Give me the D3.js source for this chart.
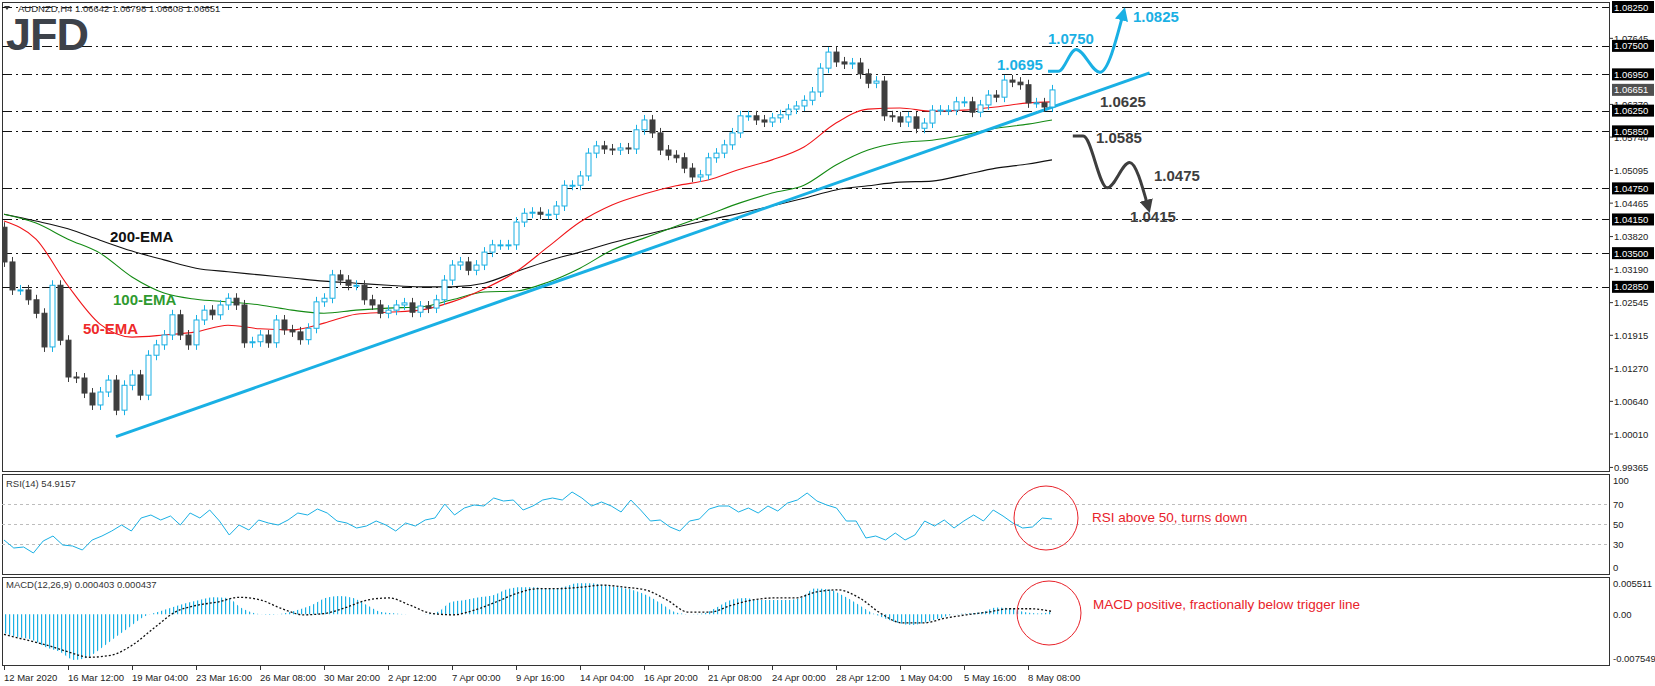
<!DOCTYPE html>
<html>
<head>
<meta charset="utf-8">
<script src="https://cdn.jsdelivr.net/npm/d3@7"></script>
<style>
  body { margin: 0; background: #fff; }
  text { font-family: "Liberation Sans", Arial, sans-serif; }
</style>
</head>
<body>
<script>
// AUDNZD H4 closes, one per two H4 bars
var closes = [
  1.0333, 1.0279, 1.0279, 1.0260, 1.0234, 1.0169, 1.0288, 1.0182, 1.0111, 1.0109,
  1.0080, 1.0057, 1.0082, 1.0105, 1.0047, 1.0095, 1.0115, 1.0076, 1.0153, 1.0173,
  1.0192, 1.0231, 1.0192, 1.0173, 1.0221, 1.0240, 1.0231, 1.0250, 1.0263, 1.0250,
  1.0177, 1.0179, 1.0192, 1.0177, 1.0221, 1.0202, 1.0198, 1.0183, 1.0205, 1.0256,
  1.0263, 1.0308, 1.0298, 1.0288, 1.0288, 1.0260, 1.0250, 1.0234, 1.0240, 1.0250,
  1.0254, 1.0236, 1.0248, 1.0244, 1.0260, 1.0298, 1.0327, 1.0333, 1.0317, 1.0327,
  1.0352, 1.0366,
  1.0366, 1.0366, 1.0410, 1.0427, 1.0429, 1.0425, 1.0425, 1.0441, 1.0481, 1.0481,
  1.0499, 1.0543, 1.0557, 1.0551, 1.0549, 1.0553, 1.0551, 1.0588, 1.0607, 1.0582,
  1.0549, 1.0539, 1.0534, 1.0514, 1.0497, 1.0501, 1.0534, 1.0543, 1.0559, 1.0582,
  1.0615, 1.0615, 1.0607, 1.0603, 1.0611, 1.0617, 1.0628, 1.0634, 1.0645, 1.0661,
  1.0707, 1.0738, 1.0719, 1.0715, 1.0717, 1.0696, 1.0678, 1.0682, 1.0615, 1.0613,
  1.0603, 1.0613, 1.0591, 1.0601,
  1.0626, 1.0626, 1.0626, 1.0642, 1.0642, 1.0622, 1.0636, 1.0655, 1.0651, 1.0684,
  1.0680, 1.0675, 1.0640, 1.0640, 1.0632, 1.0665
]
var firstOpen = 1.0400

// EMA readings every 4 candles (last point = last candle)
var emaIdx = [0, 4, 8, 12, 16, 20, 24, 28, 32, 36, 40, 44, 48, 52, 56, 60, 64, 68, 72, 76,
  80, 84, 88, 92, 96, 100, 104, 108, 112, 116, 120, 124, 128, 131]
var ema50 = [1.0412, 1.0377, 1.0287, 1.0213, 1.0188, 1.0192, 1.0198, 1.0211, 1.0204, 1.0202,
  1.0215, 1.0232, 1.0236, 1.0240, 1.0256, 1.0281, 1.0314, 1.0362, 1.0410, 1.0443,
  1.0464, 1.0480, 1.0491, 1.0512, 1.0530, 1.0555, 1.0601, 1.0628, 1.0630, 1.0624,
  1.0626, 1.0632, 1.0640, 1.0642]
var ema100 = [1.0425, 1.0408, 1.0377, 1.0350, 1.0304, 1.0273, 1.0261, 1.0256, 1.0250, 1.0240,
  1.0234, 1.0240, 1.0244, 1.0246, 1.0260, 1.0275, 1.0277, 1.0294, 1.0321, 1.0356,
  1.0379, 1.0402, 1.0424, 1.0447, 1.0466, 1.0481, 1.0520, 1.0549, 1.0563, 1.0568,
  1.0578, 1.0591, 1.0599, 1.0607]
var ema200 = [1.0425, 1.0412, 1.0397, 1.0375, 1.0354, 1.0337, 1.0321, 1.0314, 1.0308, 1.0302,
  1.0296, 1.0292, 1.0288, 1.0285, 1.0285, 1.0292, 1.0314, 1.0335, 1.0352, 1.0370,
  1.0385, 1.0400, 1.0414, 1.0427, 1.0441, 1.0456, 1.0472, 1.0480, 1.0487, 1.0489,
  1.0501, 1.0514, 1.0522, 1.0530]

var trendline = [[14, 0.9996], [143.2, 1.0698]]

var levels = [1.0825, 1.0750, 1.0695, 1.0625, 1.0585, 1.0475, 1.0415, 1.0350, 1.0285]
var priceTicks = [1.07645, 1.06370, 1.05740, 1.05095, 1.04465, 1.03820, 1.03190, 1.02545,
  1.01915, 1.01270, 1.00640, 1.00010, 0.99365]
var lastPrice = 1.06651

var rsi = [34, 26, 27, 21, 33, 38, 29, 28, 24, 34, 38, 43, 49, 43, 56, 59, 54, 58, 49, 61,
  56, 64, 53, 39, 49, 44, 54, 51, 49, 54, 61, 59, 65, 61, 53, 51, 46, 48, 53, 49,
  43, 51, 48, 54, 56, 70, 59, 66, 69, 68, 76, 73, 74, 64, 68, 74, 76, 74, 82, 76,
  68, 72, 68, 62, 74, 64, 53, 54, 47, 43, 53, 55, 65, 68, 68, 62, 66, 61, 68, 63,
  71, 74, 81, 73, 69, 66, 53, 53, 36, 38, 34, 41, 34, 39, 53, 48, 54, 46, 53, 59,
  53, 64, 58, 51, 46, 47, 56, 55]
var rsiTicks = [100, 70, 50, 30, 0]

var macdHist = [-0.0028, -0.0034, -0.0038, -0.0049, -0.0056, -0.0068, -0.0064, -0.0050, -0.0034, -0.0019,
  -0.0004, 0.0003, 0.0010, 0.0016, 0.0021, 0.0025, 0.0024, 0.0009, 0.0001, -0.0001,
  0.0001, 0.0006, 0.0013, 0.0024, 0.0027, 0.0024, 0.0013, 0.0003, 0.0001, 0.0000,
  0.0000, 0.0003, 0.0018, 0.0021, 0.0025, 0.0028, 0.0037, 0.0040, 0.0040, 0.0038,
  0.0040, 0.0046, 0.0046, 0.0043, 0.0040, 0.0036, 0.0028, 0.0016, 0.0003, 0.0000,
  0.0001, 0.0010, 0.0021, 0.0024, 0.0021, 0.0021, 0.0021, 0.0024, 0.0038, 0.0037,
  0.0028, 0.0016, 0.0003, -0.0006, -0.0013, -0.0016, -0.0012, -0.0006, 0.0000, 0.0001,
  0.0003, 0.0010, 0.0009, 0.0003, 0.0001, 0.0004]
var macdSignal = [-0.0030, -0.0038, -0.0046, -0.0056, -0.0064, -0.0061, -0.0046, -0.0021, 0.0003, 0.0013,
  0.0018, 0.0025, 0.0021, 0.0008, -0.0001, 0.0001, 0.0010, 0.0021, 0.0024, 0.0013,
  0.0001, -0.0001, 0.0006, 0.0018, 0.0031, 0.0038, 0.0038, 0.0040, 0.0043, 0.0040,
  0.0036, 0.0021, 0.0003, 0.0003, 0.0013, 0.0021, 0.0024, 0.0024, 0.0033, 0.0036,
  0.0024, 0.0001, -0.0013, -0.0013, -0.0006, -0.0001, 0.0003, 0.0008, 0.0008, 0.0004]
var macdTicks = [0.005511, 0.00, -0.007549]
var macdTickText = ["0.005511", "0.00", "-0.007549"]

var timeLabels = ["12 Mar 2020", "16 Mar 12:00", "19 Mar 04:00", "23 Mar 16:00", "26 Mar 08:00",
  "30 Mar 20:00", "2 Apr 12:00", "7 Apr 00:00", "9 Apr 16:00", "14 Apr 04:00", "16 Apr 20:00",
  "21 Apr 08:00", "24 Apr 00:00", "28 Apr 12:00", "1 May 04:00", "5 May 16:00", "8 May 08:00"]

var W = 1655, H = 686
var left = 2, right = 1609
var main = { top: 2, bottom: 471 }
var rsiP = { top: 474, bottom: 574 }
var macdP = { top: 577, bottom: 665 }
var blue = "#1ab0e4", dark = "#3e3e3e", red = "#e8222a"

var svg = d3.select("body").append("svg").attr("width", W).attr("height", H)
svg.append("rect").attr("width", W).attr("height", H).attr("fill", "#fff")

var defs = svg.append("defs")
defs.append("clipPath").attr("id", "clipMain").append("rect")
  .attr("x", left).attr("y", main.top).attr("width", right - left).attr("height", main.bottom - main.top)
defs.append("pattern").attr("id", "hatch").attr("patternUnits", "userSpaceOnUse")
  .attr("width", 4).attr("height", 10)
  .append("rect").attr("x", 1).attr("width", 1.2).attr("height", 10).attr("fill", blue)
function marker(id, color) {
  defs.append("marker").attr("id", id).attr("viewBox", "0 0 10 10").attr("refX", 5).attr("refY", 5)
    .attr("markerWidth", 4.5).attr("markerHeight", 4.5).attr("orient", "auto")
    .append("path").attr("d", "M0,0L10,5L0,10Z").attr("fill", color)
}
marker("arrBlue", blue)
marker("arrDark", dark)

var x = d3.scaleLinear().domain([0, closes.length - 1]).range([4, 1052])
var y = d3.scaleLinear().domain([1.0001, 1.0825]).range([434, 7])
var yR = d3.scaleLinear().domain([0, 100]).range([rsiP.bottom, rsiP.top])
var yM = d3.scaleLinear().domain([-0.007549, 0.005511]).range([macdP.bottom, macdP.top])

// panel frames
;[main, rsiP, macdP].forEach(function (p) {
  svg.append("rect").attr("x", left + 0.5).attr("y", p.top + 0.5)
    .attr("width", right - left).attr("height", p.bottom - p.top)
    .attr("fill", "none").attr("stroke", "#333").attr("stroke-width", 1)
})

var g = svg.append("g").attr("clip-path", "url(#clipMain)")

// horizontal levels
g.selectAll("line.level").data(levels).enter().append("line")
  .attr("x1", left).attr("x2", right)
  .attr("y1", d => Math.round(y(d)) + 0.5).attr("y2", d => Math.round(y(d)) + 0.5)
  .attr("stroke", "#111").attr("stroke-dasharray", "10,4,2,4")

// EMAs
var emaLine = d3.line().x((d, i) => x(emaIdx[i])).y(d => y(d)).curveMonotoneX
var mkLine = function (arr, color) {
  g.append("path").datum(arr)
    .attr("d", d3.line().x((d, i) => x(emaIdx[i])).y(d => y(d)).curve(d3.curveMonotoneX))
    .attr("fill", "none").attr("stroke", color).attr("stroke-width", 1.1)
}
mkLine(ema200, "#111")
mkLine(ema100, "#138a13")
mkLine(ema50, "#f0161a")

// trendline
g.append("line")
  .attr("x1", x(trendline[0][0])).attr("y1", y(trendline[0][1]))
  .attr("x2", x(trendline[1][0])).attr("y2", y(trendline[1][1]))
  .attr("stroke", blue).attr("stroke-width", 3)

// candles
var candles = closes.map(function (c, i) {
  var o = i === 0 ? firstOpen : closes[i - 1]
  return { i: i, o: o, c: c }
})
var cg = g.selectAll("g.candle").data(candles).enter().append("g")
cg.append("line")
  .attr("x1", d => Math.round(x(d.i)) + 0.5).attr("x2", d => Math.round(x(d.i)) + 0.5)
  .attr("y1", d => y(Math.max(d.o, d.c)) - 5).attr("y2", d => y(Math.min(d.o, d.c)) + 5)
  .attr("stroke", d => d.c >= d.o ? blue : dark).attr("stroke-width", 1)
cg.append("rect")
  .attr("x", d => Math.round(x(d.i)) - 2)
  .attr("y", d => y(Math.max(d.o, d.c)))
  .attr("width", 5)
  .attr("height", d => Math.max(1, Math.abs(y(d.o) - y(d.c))))
  .attr("fill", d => d.c >= d.o ? "#fff" : dark)
  .attr("stroke", d => d.c >= d.o ? blue : dark).attr("stroke-width", 1)

// right price axis
var ax = svg.append("g")
ax.selectAll("line.pt").data(priceTicks).enter().append("line")
  .attr("x1", right).attr("x2", right + 4).attr("y1", d => y(d)).attr("y2", d => y(d)).attr("stroke", "#333")
ax.selectAll("text.pt").data(priceTicks).enter().append("text")
  .attr("x", right + 5).attr("y", d => y(d) + 3.5).attr("font-size", 9.5).attr("fill", "#222")
  .text(d => d.toFixed(5))
var lv = ax.selectAll("g.lv").data(levels.concat([lastPrice])).enter().append("g")
lv.append("rect").attr("x", right + 3).attr("y", d => y(d) - 6).attr("width", 42).attr("height", 12)
  .attr("fill", d => d === lastPrice ? "#505050" : "#000")
lv.append("text").attr("x", right + 5).attr("y", d => y(d) + 3.5).attr("font-size", 9.5)
  .attr("fill", "#fff").text(d => d.toFixed(5))

// header and logo
svg.append("path").attr("d", "M4,6L10,6L7,10Z").attr("fill", "#333")
svg.append("text").attr("x", 18).attr("y", 12).attr("font-size", 9.5).attr("fill", "#333")
  .text("AUDNZD,H4  1.06642 1.06798 1.06608 1.06651")
svg.append("text").attr("x", 6).attr("y", 50).attr("font-size", 45).attr("font-weight", "bold")
  .attr("font-family", "Roboto, 'Liberation Sans', sans-serif").attr("fill", "#3d424a").attr("letter-spacing", -1)
  .text("JFD")

// EMA labels
svg.append("text").attr("x", 110).attr("y", 242).attr("font-size", 15).attr("font-weight", "bold").attr("fill", "#111").text("200-EMA")
svg.append("text").attr("x", 113).attr("y", 305).attr("font-size", 15).attr("font-weight", "bold").attr("fill", "#2f9a2f").text("100-EMA")
svg.append("text").attr("x", 83).attr("y", 334).attr("font-size", 15).attr("font-weight", "bold").attr("fill", "#ee2a2a").text("50-EMA")

// scenario arrows
var blueRoute = [[130.5, 1.0701], [131.8, 1.0701], [134.0, 1.0743], [137.0, 1.0699], [139.9, 1.0812]]
var darkRoute = [[133.6, 1.0576], [134.9, 1.0576], [137.9, 1.0476], [140.7, 1.0525], [143.0, 1.0440]]
var routeLine = d3.line().x(d => x(d[0])).y(d => y(d[1])).curve(d3.curveMonotoneX)
svg.append("path").datum(blueRoute).attr("d", routeLine).attr("fill", "none")
  .attr("stroke", blue).attr("stroke-width", 3).attr("marker-end", "url(#arrBlue)")
svg.append("path").datum(darkRoute).attr("d", routeLine).attr("fill", "none")
  .attr("stroke", dark).attr("stroke-width", 3).attr("marker-end", "url(#arrDark)")

var blueNotes = [["1.0825", 1133, 22], ["1.0750", 1048, 44], ["1.0695", 997, 70]]
var darkNotes = [["1.0625", 1100, 107], ["1.0585", 1096, 143], ["1.0475", 1154, 181], ["1.0415", 1130, 222]]
svg.selectAll("text.bn").data(blueNotes).enter().append("text")
  .attr("x", d => d[1]).attr("y", d => d[2]).attr("font-size", 15).attr("font-weight", "bold")
  .attr("fill", blue).text(d => d[0])
svg.selectAll("text.dn").data(darkNotes).enter().append("text")
  .attr("x", d => d[1]).attr("y", d => d[2]).attr("font-size", 15).attr("font-weight", "bold")
  .attr("fill", dark).text(d => d[0])

// RSI panel
svg.selectAll("line.rl").data([70, 50, 30]).enter().append("line")
  .attr("x1", left).attr("x2", right).attr("y1", d => yR(d) + 0.5).attr("y2", d => yR(d) + 0.5)
  .attr("stroke", "#bdbdbd").attr("stroke-dasharray", "3,3")
var xr = d3.scaleLinear().domain([0, rsi.length - 1]).range([x(0), x(closes.length - 1)])
svg.append("path").datum(rsi)
  .attr("d", d3.line().x((d, i) => xr(i)).y(d => yR(d)))
  .attr("fill", "none").attr("stroke", blue).attr("stroke-width", 1)
svg.append("text").attr("x", 6).attr("y", 487).attr("font-size", 9.5).attr("fill", "#333").text("RSI(14) 54.9157")
svg.selectAll("text.rt").data(rsiTicks).enter().append("text")
  .attr("x", right + 4)
  .attr("y", d => d === 100 ? yR(d) + 10 : d === 0 ? yR(d) - 3 : yR(d) + 3.5)
  .attr("font-size", 9.5).attr("fill", "#222").text(d => d)

// MACD panel
var xm = d3.scaleLinear().domain([0, macdHist.length - 1]).range([x(0), x(closes.length - 1)])
svg.append("path").datum(macdHist)
  .attr("d", d3.area().x((d, i) => xm(i)).y0(yM(0)).y1(d => yM(d)).curve(d3.curveMonotoneX))
  .attr("fill", "url(#hatch)")
var xs = d3.scaleLinear().domain([0, macdSignal.length - 1]).range([x(0), x(closes.length - 1)])
svg.append("path").datum(macdSignal)
  .attr("d", d3.line().x((d, i) => xs(i)).y(d => yM(d)).curve(d3.curveMonotoneX))
  .attr("fill", "none").attr("stroke", "#111").attr("stroke-width", 1.3).attr("stroke-dasharray", "2,2")
svg.append("text").attr("x", 6).attr("y", 588).attr("font-size", 9.5).attr("fill", "#333")
  .text("MACD(12,26,9) 0.000403 0.000437")
svg.selectAll("text.mt").data(macdTicks).enter().append("text")
  .attr("x", right + 4)
  .attr("y", (d, i) => i === 0 ? yM(d) + 10 : i === 2 ? yM(d) - 3 : yM(d) + 3.5)
  .attr("font-size", 9.5).attr("fill", "#222").text((d, i) => macdTickText[i])

// circles and notes
svg.append("circle").attr("cx", 1046).attr("cy", 518).attr("r", 32)
  .attr("fill", "none").attr("stroke", red).attr("stroke-width", 1)
svg.append("circle").attr("cx", 1049).attr("cy", 613).attr("r", 32)
  .attr("fill", "none").attr("stroke", red).attr("stroke-width", 1)
svg.append("text").attr("x", 1092).attr("y", 522).attr("font-size", 13.5).attr("fill", red).text("RSI above 50, turns down")
svg.append("text").attr("x", 1093).attr("y", 609).attr("font-size", 13.5).attr("fill", red)
  .text("MACD positive, fractionally below trigger line")

// time axis
var tg = svg.selectAll("g.tl").data(timeLabels).enter().append("g")
tg.append("line").attr("x1", (d, i) => Math.round(x(i * 8)) + 0.5).attr("x2", (d, i) => Math.round(x(i * 8)) + 0.5)
  .attr("y1", macdP.bottom).attr("y2", macdP.bottom + 5).attr("stroke", "#333")
tg.append("text").attr("x", (d, i) => x(i * 8)).attr("y", 681).attr("font-size", 9.5).attr("fill", "#222")
  .text(d => d)
</script>
</body>
</html>
